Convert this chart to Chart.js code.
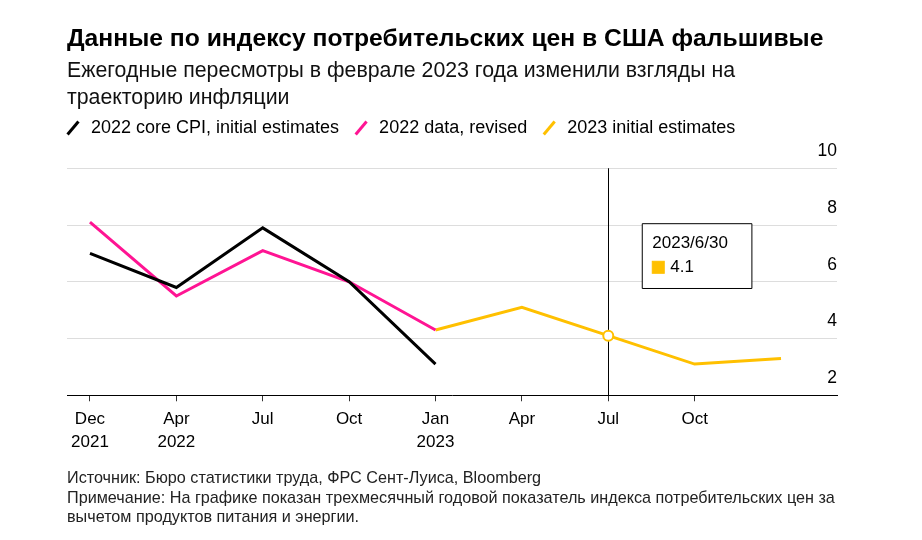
<!DOCTYPE html>
<html>
<head>
<meta charset="utf-8">
<script src="https://cdn.jsdelivr.net/npm/chart.js@4.4.0/dist/chart.umd.min.js"></script>
<style>
html,body{margin:0;padding:0;background:#fff;}
#wrap{position:relative;width:922px;height:540px;overflow:hidden;font-family:"Liberation Sans",Arial,Helvetica,sans-serif;color:#000;}
#chartbox{position:absolute;left:0;top:0;width:922px;height:540px;}
.txt{position:absolute;left:67px;white-space:nowrap;}
#title{top:23px;font-size:24.7px;font-weight:bold;line-height:30px;color:#000;}
#subtitle{top:56.5px;font-size:21.3px;line-height:27px;color:#111;}
#footer{top:468px;font-size:16.2px;line-height:19.5px;color:#222;}
</style>
</head>
<body>
<div id="wrap">
  <div id="chartbox"><canvas id="c"></canvas></div>
  <div id="title" class="txt">Данные по индексу потребительских цен в США фальшивые</div>
  <div id="subtitle" class="txt">Ежегодные пересмотры в феврале 2023 года изменили взгляды на<br>траекторию инфляции</div>
  <div id="footer" class="txt">Источник: Бюро статистики труда, ФРС Сент-Луиса, Bloomberg<br>Примечание: На графике показан трехмесячный годовой показатель индекса потребительских цен за<br>вычетом продуктов питания и энергии.</div>
</div>
<script>
// ---- data ----
const periods = ['2021-12-31','2022-03-31','2022-06-30','2022-09-30','2022-12-31','2023-03-31','2023-06-30','2023-09-30','2023-12-31'];
const tooltipDates = ['2021/12/31','2022/3/31','2022/6/30','2022/9/30','2022/12/31','2023/3/31','2023/6/30','2023/9/30','2023/12/31'];
const tickLabels = [['Dec','2021'],['Apr','2022'],'Jul','Oct',['Jan','2023'],'Apr','Jul','Oct'];
const coreInitial = [7.0, 5.8, 7.9, 6.0, 3.1, null, null, null, null];
const revised2022 = [8.1, 5.5, 7.1, 6.0, 4.3, null, null, null, null];
const initial2023 = [null, null, null, null, 4.3, 5.1, 4.1, 3.1, 3.3];
const seriesNames = ['2022 core CPI, initial estimates', '2022 data, revised', '2023 initial estimates'];
const yTicks = [2, 4, 6, 8, 10];
const highlightedSeries = 2;
const highlightedIndex = 6;

const colors = ['#000000', '#ff1493', '#ffc000'];
const FONT = '"Liberation Sans", Arial, Helvetica, sans-serif';
Chart.defaults.font.family = FONT;
Chart.defaults.color = '#000';

const toPoints = arr => arr.map((v, i) => ({ x: i, y: v }));

Chart.Tooltip.positioners.besidePoint = function (items) {
  if (!items.length) return false;
  const el = items[0].element;
  return { x: el.x + 34, y: el.y - 112 };
};

const crosshair = {
  id: 'crosshair',
  beforeDatasetsDraw(chart) {
    const act = chart.getActiveElements();
    if (!act.length) return;
    const x = Math.round(act[0].element.x) + 0.5;
    const yTop = chart.scales.y.getPixelForValue(yTicks[yTicks.length - 1]);
    const ctx = chart.ctx;
    ctx.save();
    ctx.strokeStyle = '#000';
    ctx.lineWidth = 1;
    ctx.beginPath();
    ctx.moveTo(x, yTop);
    ctx.lineTo(x, chart.chartArea.bottom);
    ctx.stroke();
    ctx.restore();
  }
};

const allSeries = [coreInitial, revised2022, initial2023];

const chart = new Chart(document.getElementById('c'), {
  type: 'line',
  data: {
    datasets: allSeries.map((arr, k) => ({
      label: seriesNames[k],
      data: toPoints(arr),
      borderColor: colors[k],
      backgroundColor: colors[k],
      borderWidth: 3,
      pointRadius: 0,
      pointHoverRadius: 5,
      pointHitRadius: 0,
      pointHoverBackgroundColor: '#fff',
      pointHoverBorderColor: colors[k],
      pointHoverBorderWidth: 2,
      tension: 0,
      spanGaps: false
    }))
  },
  options: {
    responsive: true,
    maintainAspectRatio: false,
    animation: false,
    events: [],
    layout: { padding: { top: 106, left: 51, right: 85, bottom: 79.5 } },
    scales: {
      x: {
        type: 'linear',
        min: -0.266,
        max: 8.648,
        afterBuildTicks: s => { s.ticks = tickLabels.map((_, i) => ({ value: i })); },
        ticks: {
          autoSkip: false, maxRotation: 0, minRotation: 0, padding: 7, color: '#000',
          font: { size: 17, lineHeight: 1.33 },
          callback: v => tickLabels[v]
        },
        grid: { display: true, drawOnChartArea: false, drawTicks: true, tickLength: 6, color: '#333', lineWidth: 1 },
        border: { display: true, color: '#000', width: 1 }
      },
      y: {
        type: 'linear',
        position: 'right',
        min: 2,
        max: 10.75,
        afterBuildTicks: s => { s.ticks = yTicks.map(v => ({ value: v })); },
        afterFit: s => { s.width = 0; },
        ticks: { mirror: true, padding: 0, labelOffset: -17, color: '#000', font: { size: 17.5 }, callback: v => String(v) },
        grid: { color: '#dddddd', lineWidth: 1, drawTicks: false },
        border: { display: false }
      },
      gutter: {
        type: 'linear',
        position: 'left',
        display: true,
        afterFit: s => { s.width = 16; },
        ticks: { display: false },
        grid: { display: false, drawTicks: false },
        border: { display: false }
      }
    },
    plugins: {
      legend: {
        position: 'top',
        align: 'start',
        labels: {
          usePointStyle: true,
          boxHeight: 12,
          boxWidth: 18,
          padding: 13,
          color: '#000',
          font: { size: 18 },
          generateLabels: ch => ch.data.datasets.map((ds, i) => ({
            text: ds.label,
            fillStyle: ds.borderColor,
            strokeStyle: ds.borderColor,
            fontColor: '#000',
            lineWidth: 3,
            pointStyle: 'line',
            rotation: -50,
            hidden: false,
            datasetIndex: i
          }))
        }
      },
      tooltip: {
        enabled: true,
        position: 'besidePoint',
        xAlign: 'left',
        yAlign: 'top',
        caretSize: 0,
        caretPadding: 0,
        cornerRadius: 0,
        backgroundColor: '#fff',
        borderColor: '#000',
        borderWidth: 1,
        titleColor: '#000',
        bodyColor: '#000',
        titleFont: { size: 17, weight: 'normal' },
        bodyFont: { size: 17 },
        titleMarginBottom: 4,
        padding: { top: 9, bottom: 11, left: 10, right: 24 },
        displayColors: true,
        boxWidth: 12,
        boxHeight: 12,
        boxPadding: 4,
        multiKeyBackground: colors[highlightedSeries],
        callbacks: {
          title: items => tooltipDates[items[0].dataIndex],
          label: item => String(item.parsed.y),
          labelColor: item => ({ borderColor: colors[item.datasetIndex], backgroundColor: colors[item.datasetIndex], borderWidth: 1, borderRadius: 0 })
        }
      }
    }
  },
  plugins: [crosshair]
});

const active = [{ datasetIndex: highlightedSeries, index: highlightedIndex }];
chart.setActiveElements(active);
chart.tooltip.setActiveElements(active, { x: 0, y: 0 });
chart.update();
</script>
</body>
</html>
